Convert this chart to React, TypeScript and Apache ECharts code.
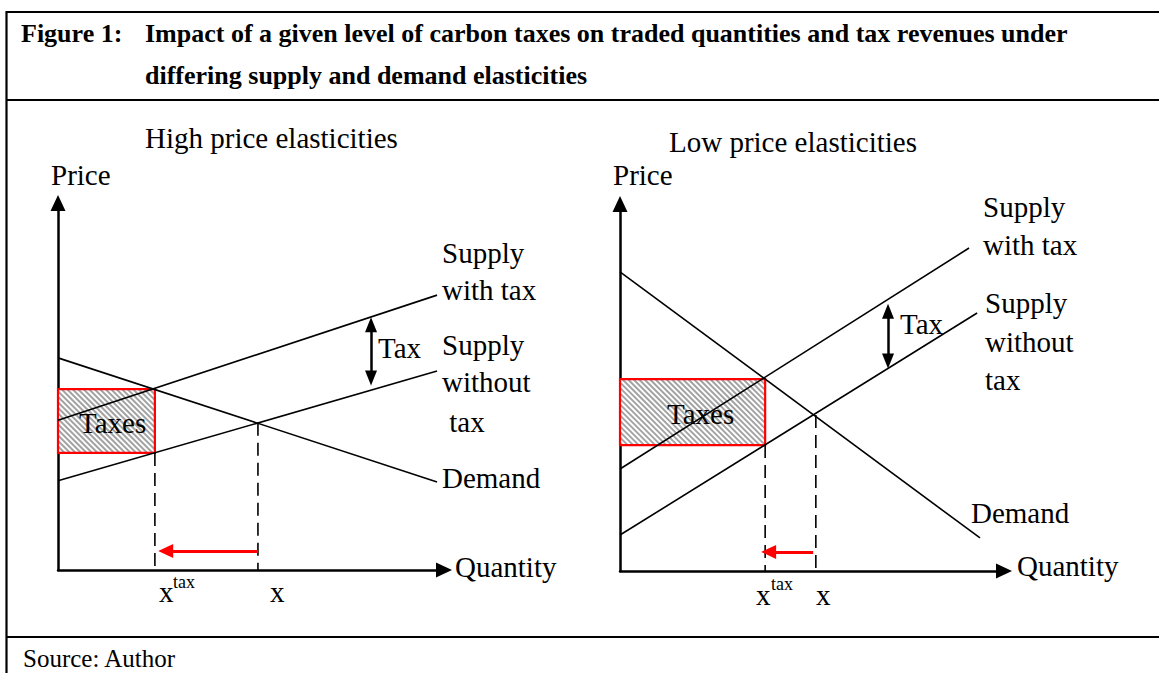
import React, { useEffect, useRef } from "react";
import * as echarts from "echarts";

const FONT = "'Liberation Serif', 'Times New Roman', serif";

// ---------- Left panel: high price elasticities (abstract units 0..100) ----------
const highDemand = [[0, 57.8], [98.2, 24.0]];
const highSupplyTax = [[0, 40.8], [98.2, 74.9]];
const highSupply = [[0, 24.3], [98.2, 54.2]];
const highXTax = 25.1;
const highXTaxY = 31.9; // supply without tax at x_tax
const highX = 51.8;
const highXY = 40.1; // equilibrium price without tax
const highBox = [0, 31.9, 25.1, 49.3]; // x0, y0, x1, y1 (tax revenue rectangle)
const highTaxArrow = { x: 81.1, top: 66.8, bottom: 52.3 };
const highShift = { from: 51.8, to: 27.9, y: 5.2 };

// ---------- Right panel: low price elasticities ----------
const lowDemand = [[0, 81.5], [93.75, 9.0]];
const lowSupplyTax = [[0, 27.8], [90.9, 88.0]];
const lowSupply = [[0, 9.8], [93.0, 70.3]];
const lowXTax = 37.8;
const lowXTaxY = 34.3;
const lowX = 51.0;
const lowXY = 42.5;
const lowBox = [0, 34.3, 37.8, 52.3];
const lowTaxArrow = { x: 69.8, top: 70.8, bottom: 57.2 };
const lowShift = { from: 50.3, to: 38.7, y: 5.2 };

const axis = (gridIndex: number) => ({
  type: "value",
  gridIndex,
  min: 0,
  max: 100,
  axisLine: {
    show: true,
    onZero: false,
    symbol: ["none", "triangle"],
    symbolSize: [15, 16],
    lineStyle: { color: "#000", width: 2.5 },
  },
  axisTick: { show: false },
  axisLabel: { show: false },
  splitLine: { show: false },
});

const curve = (data: number[][], g: number, extra: any = {}) => ({
  type: "line",
  xAxisIndex: g,
  yAxisIndex: g,
  data,
  symbol: "none",
  silent: true,
  clip: false,
  z: 3,
  lineStyle: { color: "#000", width: 1.6 },
  ...extra,
});

const dashed = (x: number, y: number, g: number, extra: any = {}) =>
  curve(
    [
      [x, y],
      [x, 0],
    ],
    g,
    { lineStyle: { color: "#000", width: 1.6, type: [13, 7] }, ...extra }
  );

const shiftMark = (s: { from: number; to: number; y: number }) => ({
  silent: true,
  symbol: ["none", "triangle"],
  symbolSize: [14, 15],
  label: { show: false },
  lineStyle: { color: "#ff0000", width: 3, type: "solid" },
  data: [[{ coord: [s.from, s.y] }, { coord: [s.to, s.y] }]],
});

const taxMark = (a: { x: number; top: number; bottom: number }) => ({
  silent: true,
  symbol: ["triangle", "triangle"],
  symbolSize: [12, 15],
  label: { show: false },
  lineStyle: { color: "#000", width: 2.5, type: "solid" },
  data: [[{ coord: [a.x, a.top] }, { coord: [a.x, a.bottom] }]],
});

const boxSeries = (box: number[], g: number) => ({
  type: "custom",
  xAxisIndex: g,
  yAxisIndex: g,
  data: [box],
  silent: true,
  z: 1,
  renderItem: (_p: any, api: any) => {
    const a = api.coord([api.value(0), api.value(3)]);
    const b = api.coord([api.value(2), api.value(1)]);
    const x0 = a[0],
      y0 = a[1],
      x1 = b[0],
      y1 = b[1];
    const children: any[] = [
      { type: "rect", shape: { x: x0, y: y0, width: x1 - x0, height: y1 - y0 }, style: { fill: "#ffffff" } },
    ];
    const step = 5.5;
    for (let c = y0 - x1; c <= y1 - x0; c += step) {
      const xa = Math.max(x0, y0 - c);
      const xb = Math.min(x1, y1 - c);
      if (xb > xa) {
        children.push({
          type: "line",
          shape: { x1: xa, y1: xa + c, x2: xb, y2: xb + c },
          style: { stroke: "#a3a3a3", lineWidth: 2 },
        });
      }
    }
    children.push({
      type: "rect",
      shape: { x: x0, y: y0, width: x1 - x0, height: y1 - y0 },
      style: { fill: "none", stroke: "#ff0000", lineWidth: 2.2 },
    });
    return { type: "group", children };
  },
});

const txt = (text: string, x: number, base: number, size = 29, weight = "normal") => ({
  type: "text",
  x,
  y: base - 0.34 * size,
  silent: true,
  z: 100,
  style: {
    text,
    fontSize: size,
    fontFamily: FONT,
    fontWeight: weight,
    fill: "#000",
    align: "left",
    verticalAlign: "middle",
  },
});

const hline = (y: number, x1: number, x2: number) => ({
  type: "line",
  silent: true,
  z: 100,
  shape: { x1, y1: y, x2, y2: y },
  style: { stroke: "#000", lineWidth: 2.2 },
});

export default function App() {
  const ref = useRef<HTMLDivElement>(null);
  useEffect(() => {
    if (!ref.current) return;
    const chart = echarts.init(ref.current, undefined, { renderer: "svg" });
    chart.setOption({
      animation: false,
      backgroundColor: "#ffffff",
      grid: [
        { left: 58, top: 203, width: 386, height: 367 },
        { left: 620, top: 204, width: 384, height: 367 },
      ],
      xAxis: [axis(0), axis(1)],
      yAxis: [axis(0), axis(1)],
      series: [
        boxSeries(highBox, 0),
        curve(highDemand, 0),
        curve(highSupplyTax, 0),
        curve(highSupply, 0, { markLine: taxMark(highTaxArrow) }),
        dashed(highXTax, highXTaxY, 0),
        dashed(highX, highXY, 0, { markLine: shiftMark(highShift) }),
        boxSeries(lowBox, 1),
        curve(lowDemand, 1),
        curve(lowSupplyTax, 1),
        curve(lowSupply, 1, { markLine: taxMark(lowTaxArrow) }),
        dashed(lowXTax, lowXTaxY, 1),
        dashed(lowX, lowXY, 1, { markLine: shiftMark(lowShift) }),
      ],
      graphic: [
        hline(12, 6, 1159),
        hline(100, 6, 1159),
        hline(637, 6, 1159),
        {
          type: "line",
          silent: true,
          z: 100,
          shape: { x1: 6.5, y1: 11, x2: 6.5, y2: 673 },
          style: { stroke: "#000", lineWidth: 2.2 },
        },
        txt("Figure 1:", 21, 42, 26, "bold"),
        txt("Impact of a given level of carbon taxes on traded quantities and tax revenues under", 145, 42, 26, "bold"),
        txt("differing supply and demand elasticities", 145, 84, 26, "bold"),
        txt("Source: Author", 23, 667, 25),
        // left panel
        txt("High price elasticities", 145, 148),
        txt("Price", 51, 185),
        txt("Supply", 442, 263),
        txt("with tax", 442, 300),
        txt("Tax", 378, 358),
        txt("Supply", 442, 355),
        txt("without", 442, 392),
        txt(" tax", 442, 432),
        txt("Demand", 442, 488),
        txt("Quantity", 455, 577),
        txt("Taxes", 79, 433),
        txt("x", 159, 602),
        txt("tax", 173, 588, 18),
        txt("x", 270, 602),
        // right panel
        txt("Low price elasticities", 669, 152),
        txt("Price", 613, 185),
        txt("Supply", 983, 217),
        txt("with tax", 983, 255),
        txt("Tax", 900, 334),
        txt("Supply", 985, 313),
        txt("without", 985, 352),
        txt("tax", 985, 390),
        txt("Demand", 971, 523),
        txt("Quantity", 1017, 576),
        txt("Taxes", 667, 424),
        txt("x", 756, 605),
        txt("tax", 771, 590, 18),
        txt("x", 816, 605),
      ],
    });
    return () => chart.dispose();
  }, []);
  return (
    <div
      ref={ref}
      style={{ position: "absolute", left: 0, top: 0, width: 1159, height: 673, background: "#fff" }}
    />
  );
}
